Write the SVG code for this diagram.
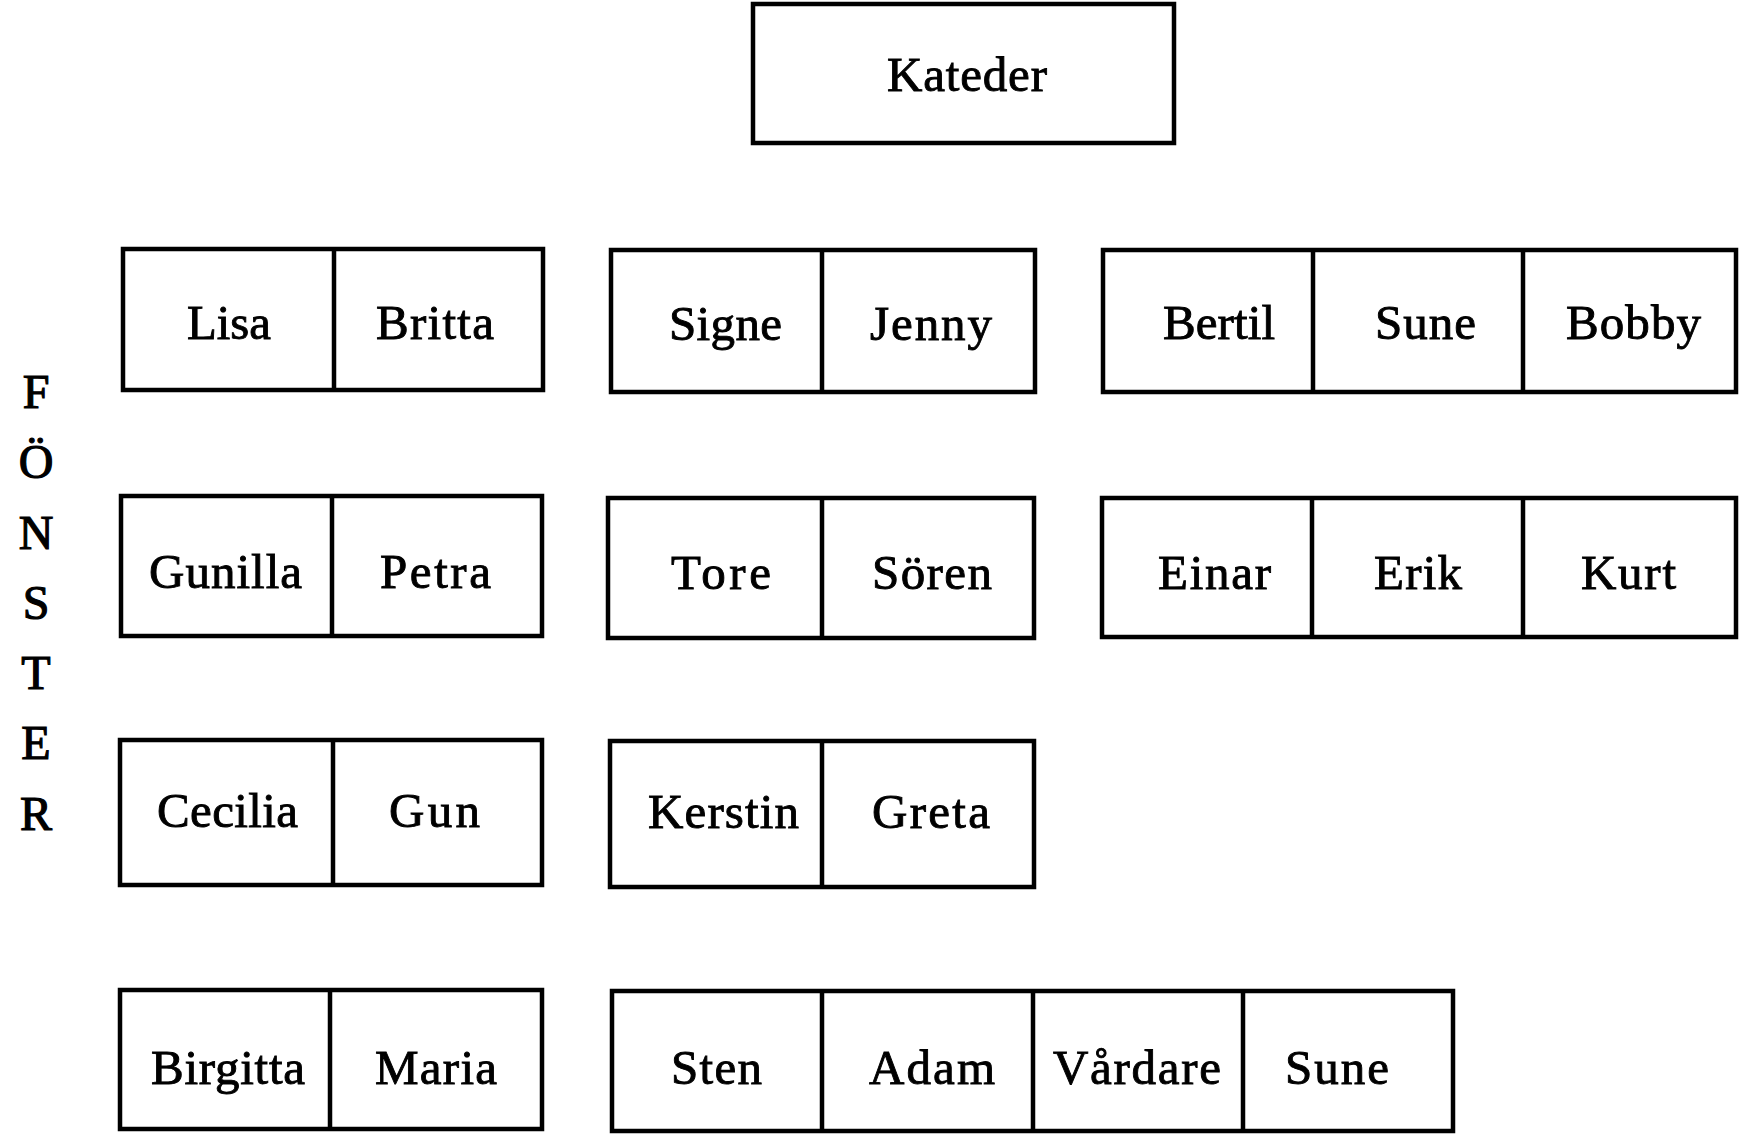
<svg xmlns="http://www.w3.org/2000/svg" width="1756" height="1140" viewBox="0 0 1756 1140">
<style>
  .box { fill: #ffffff; stroke: #000000; stroke-width: 4.5; }
  .div { stroke: #000000; stroke-width: 4.5; }
  .t { font-family: "Liberation Serif", "Times New Roman", serif; font-size: 49px; fill: #000000; stroke: #000000; stroke-width: 0.9; }
  .w { font-family: "Liberation Serif", "Times New Roman", serif; font-size: 48px; fill: #000000; stroke: #000000; stroke-width: 1.2; text-anchor: middle; }
</style>
<rect width="1756" height="1140" fill="#ffffff"/>
<g id="kateder">
  <rect class="box" x="753" y="4" width="421" height="139"/>
  <text class="t" x="887" y="91" textLength="160" lengthAdjust="spacing">Kateder</text>
</g>
<g id="fonster">
  <text class="w" x="36" y="408">F</text>
  <text class="w" x="36" y="478">Ö</text>
  <text class="w" x="36" y="549">N</text>
  <text class="w" x="36" y="619">S</text>
  <text class="w" x="36" y="689">T</text>
  <text class="w" x="36" y="759">E</text>
  <text class="w" x="36" y="830">R</text>
</g>
<g id="bank-1a">
  <rect class="box" x="123" y="249" width="420" height="141"/>
  <line class="div" x1="334" y1="249" x2="334" y2="390"/>
  <text class="t" x="187" y="339" textLength="84" lengthAdjust="spacingAndGlyphs">Lisa</text>
  <text class="t" x="376" y="339" textLength="118" lengthAdjust="spacing">Britta</text>
</g>
<g id="bank-1b">
  <rect class="box" x="611" y="250" width="424" height="142"/>
  <line class="div" x1="822" y1="250" x2="822" y2="392"/>
  <text class="t" x="669" y="340" textLength="113" lengthAdjust="spacing">Signe</text>
  <text class="t" x="870" y="340" textLength="122" lengthAdjust="spacing">Jenny</text>
</g>
<g id="bank-1c">
  <rect class="box" x="1103" y="250" width="633" height="142"/>
  <line class="div" x1="1313" y1="250" x2="1313" y2="392"/>
  <line class="div" x1="1523" y1="250" x2="1523" y2="392"/>
  <text class="t" x="1163" y="339" textLength="112" lengthAdjust="spacing">Bertil</text>
  <text class="t" x="1375" y="339" textLength="101" lengthAdjust="spacing">Sune</text>
  <text class="t" x="1566" y="339" textLength="135" lengthAdjust="spacing">Bobby</text>
</g>
<g id="bank-2a">
  <rect class="box" x="121" y="496" width="421" height="140"/>
  <line class="div" x1="332" y1="496" x2="332" y2="636"/>
  <text class="t" x="149" y="588" textLength="153" lengthAdjust="spacing">Gunilla</text>
  <text class="t" x="380" y="588" textLength="111" lengthAdjust="spacing">Petra</text>
</g>
<g id="bank-2b">
  <rect class="box" x="608" y="498" width="426" height="140"/>
  <line class="div" x1="822" y1="498" x2="822" y2="638"/>
  <text class="t" x="671" y="589" textLength="100" lengthAdjust="spacing">Tore</text>
  <text class="t" x="872" y="589" textLength="120" lengthAdjust="spacing">Sören</text>
</g>
<g id="bank-2c">
  <rect class="box" x="1102" y="498" width="634" height="139"/>
  <line class="div" x1="1312" y1="498" x2="1312" y2="637"/>
  <line class="div" x1="1523" y1="498" x2="1523" y2="637"/>
  <text class="t" x="1158" y="589" textLength="113" lengthAdjust="spacing">Einar</text>
  <text class="t" x="1374" y="589" textLength="88" lengthAdjust="spacing">Erik</text>
  <text class="t" x="1581" y="589" textLength="95" lengthAdjust="spacing">Kurt</text>
</g>
<g id="bank-3a">
  <rect class="box" x="120" y="740" width="422" height="145"/>
  <line class="div" x1="333" y1="740" x2="333" y2="885"/>
  <text class="t" x="157" y="827" textLength="141" lengthAdjust="spacing">Cecilia</text>
  <text class="t" x="389" y="827" textLength="91" lengthAdjust="spacing">Gun</text>
</g>
<g id="bank-3b">
  <rect class="box" x="610" y="741" width="424" height="146"/>
  <line class="div" x1="822" y1="741" x2="822" y2="887"/>
  <text class="t" x="648" y="828" textLength="151" lengthAdjust="spacing">Kerstin</text>
  <text class="t" x="872" y="828" textLength="118" lengthAdjust="spacing">Greta</text>
</g>
<g id="bank-4a">
  <rect class="box" x="120" y="990" width="422" height="139"/>
  <line class="div" x1="330" y1="990" x2="330" y2="1129"/>
  <text class="t" x="151" y="1084" textLength="154" lengthAdjust="spacing">Birgitta</text>
  <text class="t" x="375" y="1084" textLength="122" lengthAdjust="spacing">Maria</text>
</g>
<g id="bank-4b">
  <rect class="box" x="612" y="991" width="841" height="140"/>
  <line class="div" x1="822" y1="991" x2="822" y2="1131"/>
  <line class="div" x1="1033" y1="991" x2="1033" y2="1131"/>
  <line class="div" x1="1243" y1="991" x2="1243" y2="1131"/>
  <text class="t" x="671" y="1084" textLength="91" lengthAdjust="spacing">Sten</text>
  <text class="t" x="869" y="1084" textLength="126" lengthAdjust="spacing">Adam</text>
  <text class="t" x="1053" y="1084" textLength="168" lengthAdjust="spacing">Vårdare</text>
  <text class="t" x="1285" y="1084" textLength="104" lengthAdjust="spacing">Sune</text>
</g>
<g id="connectors"/>
</svg>
